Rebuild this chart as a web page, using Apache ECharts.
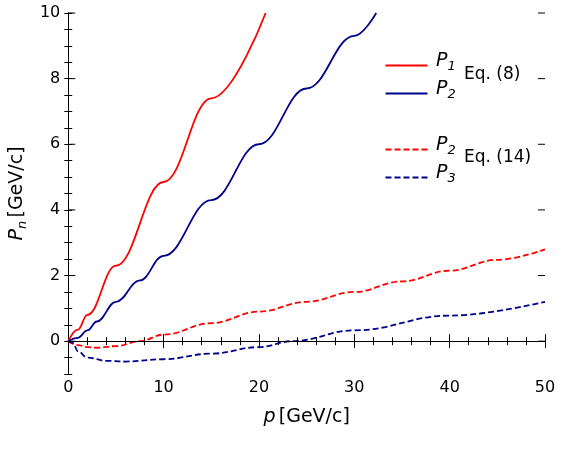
<!DOCTYPE html><html><head><meta charset="utf-8"><script src="https://cdn.jsdelivr.net/npm/echarts@6/dist/echarts.min.js"></script></head><body style="margin:0"><div id="c" style="width:562px;height:472px"></div><script>
const p1 = [[0,0],[1,0.35],[2,0.8],[5,2.3],[10,4.85],[15,7.4],[20.7,10]];
const p2 = [[0,0],[1,0.1],[2,0.33],[3,0.6],[5,1.2],[7.5,1.85],[10,2.6],[15,4.3],[20,6.0],[25,7.7],[30,9.3],[32.3,10]];
const p2e = [[0,0],[1,-0.12],[2,-0.18],[3,-0.2],[5,-0.15],[7.5,0],[10,0.2],[15,0.55],[20,0.9],[25,1.2],[30,1.5],[35,1.82],[40,2.15],[45,2.48],[50,2.8]];
const p3e = [[0,0],[0.5,-0.05],[1,-0.3],[2,-0.5],[4,-0.6],[6,-0.62],[10,-0.55],[15,-0.38],[20,-0.18],[23.5,0],[30,0.33],[40,0.78],[50,1.2]];
const yMajor = [0,2,4,6,8,10];
const F='DejaVu Sans';
const ax={axisLine:{lineStyle:{color:'#000'}},axisTick:{inside:true,length:7,lineStyle:{color:'#000'}},minorTick:{show:true,length:4,lineStyle:{color:'#000'}},splitLine:{show:false},axisLabel:{color:'#000',fontSize:16,fontFamily:F}};
const c=echarts.init(document.getElementById('c'));
const rich={i:{fontStyle:'italic',fontSize:19,fontFamily:F},s:{fontStyle:'italic',fontSize:13,fontFamily:F,verticalAlign:'bottom',padding:[10,0,0,0]},n:{fontSize:19,fontFamily:F}};
function leg(y,color,dash,sub){return [{type:'line',left:383,top:y,shape:{x1:0,y1:0,x2:42,y2:0},style:{stroke:color,lineWidth:1.8,lineDash:dash?[6,3]:null}},
{type:'text',left:436,top:y-11,style:{text:'{i|P}{s|'+sub+'}',rich:rich}}];}
const yax=(pos)=>Object.assign({},ax,{type:'value',min:-1,max:10,interval:0.5,position:pos,axisTick:{inside:true,length:4,lineStyle:{color:'#000'}},minorTick:{show:false}});
const s=(d,color,dash)=>({type:'line',data:d,smooth:0.4,smoothMonotone:'x',showSymbol:false,lineStyle:{color:color,width:1.8,type:dash?[6,3]:'solid'}});
c.setOption({animation:false,
grid:{left:61,right:17,top:13,bottom:98},
xAxis:[Object.assign({},ax,{type:'value',min:0,max:50,interval:10,minorTick:Object.assign({},ax.minorTick,{splitNumber:5}),name:'{i|p} {n|[GeV/c]}',nameLocation:'middle',nameGap:34,nameTextStyle:{rich:rich},axisLabel:Object.assign({},ax.axisLabel,{margin:6})}),
Object.assign({},ax,{type:'value',min:0,max:50,interval:10,position:'top',minorTick:Object.assign({},ax.minorTick,{splitNumber:5}),axisLabel:{show:false}})],
yAxis:[Object.assign(yax('left'),{name:'{i|P}{s|n} {n|[GeV/c]}',nameLocation:'middle',nameGap:36,nameRotate:90,nameTextStyle:{rich:rich},axisLabel:Object.assign({},ax.axisLabel,{formatter:v=>yMajor.indexOf(v)>=0?String(v):''})}),
Object.assign(yax('right'),{axisLabel:{show:false}})],
series:[
Object.assign(s(p1,'#ff0000',false),{markLine:{silent:true,symbol:'none',label:{show:false},lineStyle:{color:'#000',width:1,type:'solid'},data:[{yAxis:0}]}}),
s(p2,'#00008b',false),s(p2e,'#ff0000',true),s(p3e,'#00008b',true),
{type:'custom',silent:true,data:yMajor.map(v=>[v]),clip:false,renderItem:(params,api)=>{const l=api.coord([0,api.value(0)]);const r=api.coord([50,api.value(0)]);
return {type:'group',children:[{type:'line',shape:{x1:l[0],y1:l[1],x2:l[0]+7,y2:l[1]},style:{stroke:'#000',lineWidth:1}},{type:'line',shape:{x1:r[0]-7,y1:r[1],x2:r[0],y2:r[1]},style:{stroke:'#000',lineWidth:1}}]};}}],
graphic:[].concat(leg(63,'#ff0000',false,'1'),leg(91,'#00008b',false,'2'),leg(147,'#ff0000',true,'2'),leg(175,'#00008b',true,'3'),
[{type:'text',left:464,top:66,style:{text:'Eq. (8)',font:'17px DejaVu Sans',fill:'#000'}},{type:'text',left:464,top:149,style:{text:'Eq. (14)',font:'17px DejaVu Sans',fill:'#000'}}])
});
</script></body></html>
